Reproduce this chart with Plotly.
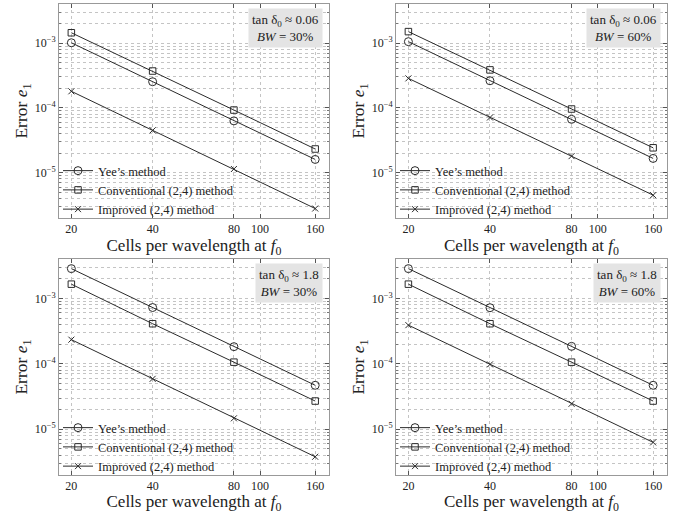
import math
import plotly.graph_objects as go

# ---------------- data ----------------
cells = [20, 40, 80, 160]
x_tick_vals = [20, 40, 80, 100, 160]
x_tick_text = ["20", "40", "80", "100", "160"]
y_tick_vals = [1e-5, 1e-4, 1e-3]
y_tick_text = ["10<sup>−5</sup>", "10<sup>−4</sup>", "10<sup>−3</sup>"]

series_names = ["Yee’s method", "Conventional (2,4) method", "Improved (2,4) method"]

# panel 1: tan d0 ~ 0.06, BW = 30%
yee_p1 = [1.01e-3, 2.53e-4, 6.3e-5, 1.6e-5]
conv_p1 = [1.44e-3, 3.7e-4, 9.25e-5, 2.32e-5]
imp_p1 = [1.8e-4, 4.5e-5, 1.14e-5, 2.8e-6]
# panel 2: tan d0 ~ 0.06, BW = 60%
yee_p2 = [1.05e-3, 2.62e-4, 6.65e-5, 1.66e-5]
conv_p2 = [1.5e-3, 3.85e-4, 9.6e-5, 2.42e-5]
imp_p2 = [2.85e-4, 7.1e-5, 1.8e-5, 4.5e-6]
# panel 3: tan d0 ~ 1.8, BW = 30%
yee_p3 = [2.85e-3, 7.25e-4, 1.83e-4, 4.7e-5]
conv_p3 = [1.65e-3, 4.1e-4, 1.06e-4, 2.7e-5]
imp_p3 = [2.34e-4, 5.9e-5, 1.47e-5, 3.8e-6]
# panel 4: tan d0 ~ 1.8, BW = 60%
yee_p4 = [2.85e-3, 7.2e-4, 1.85e-4, 4.7e-5]
conv_p4 = [1.65e-3, 4.1e-4, 1.06e-4, 2.7e-5]
imp_p4 = [3.9e-4, 9.8e-5, 2.45e-5, 6.3e-6]

panel_tan = ["0.06", "0.06", "1.8", "1.8"]
panel_bw = ["30%", "60%", "30%", "60%"]

panels = [
    (yee_p1, conv_p1, imp_p1),
    (yee_p2, conv_p2, imp_p2),
    (yee_p3, conv_p3, imp_p3),
    (yee_p4, conv_p4, imp_p4),
]

# ---------------- layout geometry ----------------
W, H = 679, 514
x_domains = [(59 / W, 329 / W), (396 / W, 667 / W)]
y_domains = [(1 - 218 / H, 1 - 4 / H), (1 - 475 / H, 1 - 259 / H)]

FONT = "Liberation Serif, Times New Roman, serif"
GRID = "#c4c4c4"
LINE = "#2b2b2b"

minor_y = [k * 10 ** e for e in range(-6, -1) for k in range(2, 10)]

symbols = ["circle-open", "square-open", "x-thin-open"]
sizes = [8, 6.5, 6]

fig = go.Figure()
layout = dict(
    width=W, height=H,
    margin=dict(l=0, r=0, t=0, b=0),
    paper_bgcolor="white", plot_bgcolor="white",
    font=dict(family=FONT, color="#222", size=12),
    annotations=[],
)

for i, data in enumerate(panels):
    r, c = divmod(i, 2)
    n = i + 1
    xa = "xaxis" if n == 1 else f"xaxis{n}"
    ya = "yaxis" if n == 1 else f"yaxis{n}"
    xr = "x" if n == 1 else f"x{n}"
    yr = "y" if n == 1 else f"y{n}"
    lg = "legend" if n == 1 else f"legend{n}"

    for s, vals in enumerate(data):
        fig.add_trace(go.Scatter(
            x=cells, y=vals, mode="lines+markers", name=series_names[s],
            xaxis=xr, yaxis=yr, legend=lg,
            line=dict(color=LINE, width=1),
            marker=dict(symbol=symbols[s], size=sizes[s], color=LINE,
                        line=dict(color=LINE, width=1)),
        ))

    layout[xa] = dict(
        type="log", range=[math.log10(18), math.log10(180)],
        domain=list(x_domains[c]), anchor=yr,
        tickvals=x_tick_vals, ticktext=x_tick_text,
        ticks="inside", ticklen=4, tickcolor="#555",
        tickfont=dict(size=12, family=FONT, color="#222"),
        showgrid=True, gridcolor=GRID, griddash="dot", gridwidth=1,
        showline=True, linecolor="#999", linewidth=1, mirror="ticks",
        zeroline=False,
        title=dict(text="Cells per wavelength at <i>f</i><sub>0</sub>",
                   font=dict(size=17, family=FONT, color="#222"), standoff=0),
    )
    layout[ya] = dict(
        type="log", range=[math.log10(2e-6), math.log10(4e-3)],
        domain=list(y_domains[r]), anchor=xr,
        tickvals=y_tick_vals, ticktext=y_tick_text,
        ticks="inside", ticklen=4, tickcolor="#555",
        tickfont=dict(size=12, family=FONT, color="#222"),
        showgrid=True, gridcolor=GRID, griddash="dot", gridwidth=1,
        showline=True, linecolor="#999", linewidth=1, mirror="ticks",
        zeroline=False,
        minor=dict(tickvals=minor_y, showgrid=True, gridcolor=GRID,
                   griddash="dot", ticks="inside", ticklen=2, tickcolor="#777"),
        title=dict(text="Error <i>e</i><sub>1</sub>",
                   font=dict(size=17.5, family=FONT, color="#222"), standoff=2),
    )
    x0 = x_domains[c][0]
    y0 = y_domains[r][0]
    layout[lg] = dict(
        x=x0 - 1 / W, y=y0 - 6 / H, xanchor="left", yanchor="bottom",
        xref="paper", yref="paper",
        bgcolor="rgba(255,255,255,0)", borderwidth=0,
        font=dict(size=12.5, family=FONT, color="#222"),
        itemwidth=30, tracegroupgap=0,
    )
    layout["annotations"].append(dict(
        text=f"tan δ<sub>0</sub> ≈ {panel_tan[i]}<br><i>BW</i> = {panel_bw[i]}",
        xref=f"{xr} domain", yref=f"{yr} domain",
        x=0.978, y=0.982, xanchor="right", yanchor="top",
        showarrow=False, align="center", bgcolor="#e4e4e4",
        borderpad=3,
        font=dict(size=13, family=FONT, color="#222", weight="normal"),
    ))

fig.update_layout(**layout)
fig.write_html("out.html")
